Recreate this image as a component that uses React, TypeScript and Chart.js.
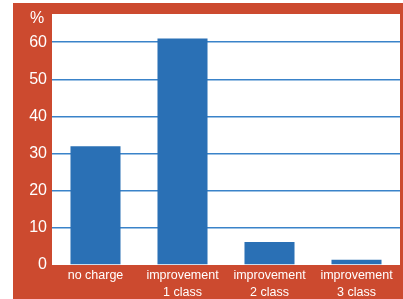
import React, { useEffect, useRef } from "react";
import { Chart, registerables } from "chart.js";

Chart.register(...registerables);

const categories: (string | string[])[] = ["no charge", ["improvement", "1 class"], ["improvement", "2 class"], ["improvement", "3 class"]];
const values: number[] = [32, 61, 6.2, 1.4];
const yTicks: number[] = [0, 10, 20, 30, 40, 50, 60];
const unitLabel = "%";

const RED = "#cc4a2f";
const BLUE = "#2a70b5";
const GRID = "#3a83c9";

export default function App() {
  const ref = useRef<HTMLCanvasElement | null>(null);
  useEffect(() => {
    if (!ref.current) return;
    const bgPlugin = {
      id: "bg",
      beforeDraw(chart: any) {
        const { ctx, chartArea } = chart;
        ctx.save();
        ctx.fillStyle = "#ffffff";
        ctx.fillRect(chartArea.left, chartArea.top, chartArea.right - chartArea.left, chartArea.bottom - chartArea.top);
        ctx.restore();
      },
      afterDraw(chart: any) {
        const { ctx } = chart;
        ctx.save();
        ctx.fillStyle = "#ffffff";
        ctx.font = "16px 'Liberation Sans', Arial, sans-serif";
        ctx.textAlign = "center";
        ctx.textBaseline = "middle";
        ctx.fillText(unitLabel, 24, 16);
        ctx.restore();
      },
    };
    const chart = new Chart(ref.current, {
      type: "bar",
      data: {
        labels: categories,
        datasets: [
          {
            data: values,
            backgroundColor: BLUE,
            borderWidth: 0,
            categoryPercentage: 1,
            barPercentage: 0.575,
          },
        ],
      },
      options: {
        animation: false,
        responsive: false,
        maintainAspectRatio: false,
        layout: { padding: { top: 11, right: 3, left: 0, bottom: 0 } },
        plugins: { legend: { display: false }, tooltip: { enabled: false } },
        scales: {
          x: {
            grid: { display: false, drawTicks: false },
            border: { display: false },
            ticks: {
              color: "#ffffff",
              font: { family: "'Liberation Sans', Arial, sans-serif", size: 12.5, lineHeight: 1.35 },
              padding: 2,
              maxRotation: 0,
              autoSkip: false,
            },
            afterFit(scale: any) {
              scale.height = 34;
              scale.paddingLeft = 0;
              scale.paddingRight = 0;
            },
          },
          y: {
            min: 0,
            max: 67.6,
            afterBuildTicks(scale: any) {
              scale.ticks = yTicks.map((v) => ({ value: v }));
            },
            grid: {
              color: (c: any) => (c.tick && c.tick.value === 0 ? "rgba(0,0,0,0)" : GRID),
              lineWidth: 1.5,
              drawTicks: false,
            },
            border: { display: false },
            ticks: {
              color: "#ffffff",
              font: { family: "'Liberation Sans', Arial, sans-serif", size: 16 },
              padding: 5,
            },
            afterFit(scale: any) {
              scale.width = 39;
              scale.paddingTop = 0;
              scale.paddingBottom = 0;
            },
          },
        },
      },
      plugins: [bgPlugin],
    });
    return () => chart.destroy();
  }, []);
  return (
    <div style={{ position: "fixed", left: 0, top: 0, width: 403, height: 299, overflow: "hidden", background: "#ffffff" }}>
      <div style={{ position: "absolute", left: 13, top: 3, width: 390, height: 296, background: RED }}>
        <canvas ref={ref} width={390} height={296} style={{ display: "block" }} />
      </div>
    </div>
  );
}
